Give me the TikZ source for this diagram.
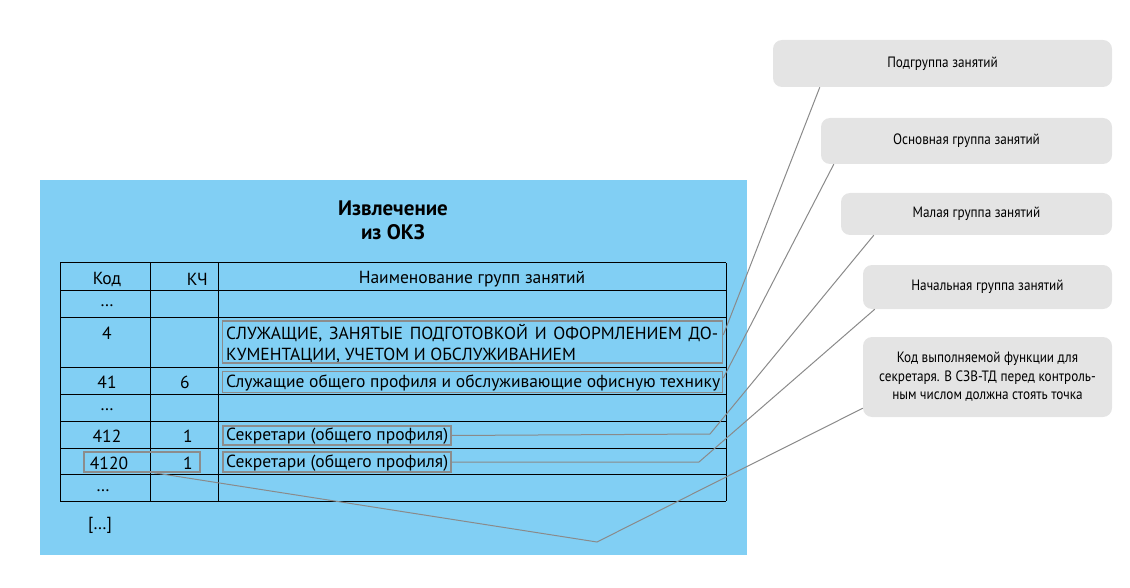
\documentclass[tikz,border=0pt]{standalone}
\usepackage{fontspec}
\setmainfont{PT Sans}
\newfontfamily\narrowfont[FakeStretch=0.88]{PT Sans}
\definecolor{bgblue}{HTML}{81CFF4}
\definecolor{boxgray}{HTML}{E4E4E4}
\definecolor{hlgray}{HTML}{8C8C8C}
\definecolor{lngray}{HTML}{8A8A8A}
\begin{document}
\begin{tikzpicture}[x=1pt,y=-1pt,
  tbl/.style={line width=1pt,black},
  hl/.style={draw=hlgray,line width=1.6pt,inner sep=0pt},
  cell/.style={inner sep=0pt,yshift=-1.5pt,font=\fontsize{17.5}{22}\selectfont},
  callout/.style={fill=boxgray,rounded corners=9pt,inner sep=0pt,align=center,
     font=\narrowfont\fontsize{15}{18.5}\selectfont},
  conn/.style={draw=lngray,line width=1pt}]
\useasboundingbox (0,0) rectangle (1130,588);
% background panel
\fill[bgblue] (40,180) rectangle (747,555);
\node[font=\bfseries\fontsize{21}{24}\selectfont,align=center,inner sep=0pt] (title) at (393,220) {Извлечение\\из ОКЗ};
% table grid
\draw[tbl] (60,263) -- (726,263) (60,290) -- (726,290) (60,317) -- (726,317)
  (60,367) -- (726,367) (60,394) -- (726,394) (60,421) -- (726,421)
  (60,448) -- (726,448) (60,474) -- (726,474) (60,501) -- (726,501);
\draw[tbl] (60,263) -- (60,501) (150,263) -- (150,501) (218,263) -- (218,501) (726,263) -- (726,501);
% header
\node[cell] (hk) at (107,278) {Код};
\node[cell,anchor=east] (hkc) at (208,278) {КЧ};
\node[cell] (hn) at (472,278) {Наименование групп занятий};
% rows
\node[cell] (r1) at (107,304) {\dots};
\node[cell] (r2k) at (107,332) {4};
\node[cell,anchor=west] (r2a) at (226,332) {\makebox[492pt][s]{СЛУЖАЩИЕ, ЗАНЯТЫЕ ПОДГОТОВКОЙ И ОФОРМЛЕНИЕМ ДО-}};
\node[cell,anchor=west] (r2b) at (226,354) {КУМЕНТАЦИИ, УЧЕТОМ И ОБСЛУЖИВАНИЕМ};
\node[cell] (r3k) at (107,381) {41};
\node[cell] (r3c) at (185,381) {6};
\node[cell,anchor=west] (r3n) at (226,381) {Служащие общего профиля и обслуживающие офисную технику};
\node[cell] (r4) at (107,408) {\dots};
\node[cell] (r5k) at (107,435) {412};
\node[cell] (r5c) at (188,435) {1};
\node[cell,anchor=west] (r5n) at (226,435) {Секретари (общего профиля)};
\node[cell] (r6k) at (109,462) {4120};
\node[cell] (r6c) at (188,462) {1};
\node[cell,anchor=west] (r6n) at (226,462) {Секретари (общего профиля)};
\node[cell] (r7) at (103,489) {\dots};
\node[cell] (etc) at (100,524) {[\dots]};
% highlight boxes
\node[hl,minimum width=500pt,minimum height=42pt] (h4) at (472.5,342) {};
\node[hl,minimum width=500pt,minimum height=21pt] (h41) at (472.5,382) {};
\node[hl,minimum width=228pt,minimum height=19pt] (h412) at (337,435.5) {};
\node[hl,minimum width=228pt,minimum height=20pt] (h4120) at (337,462) {};
\node[hl,minimum width=116pt,minimum height=20pt] (hcode) at (142,462) {};
% callouts
\node[callout,minimum width=339pt,minimum height=47pt] (sub) at (942.5,63.5) {Подгруппа занятий};
\node[callout,minimum width=291pt,minimum height=46pt] (main) at (966.5,141) {Основная группа занятий};
\node[callout,minimum width=271pt,minimum height=42pt] (minor) at (976.5,214) {Малая группа занятий};
\node[callout,minimum width=249pt,minimum height=44pt] (unit) at (987.5,287) {Начальная группа занятий};
\node[callout,minimum width=249pt,minimum height=80pt] (code) at (987.5,377) {Код выполняемой функции для\\секретаря. В СЗВ-ТД перед контроль-\\ным числом должна стоять точка};
% connectors
\coordinate (k3) at (710,434);
\coordinate (k4) at (699,462);
\coordinate (k5) at (597,542);
\draw[conn] ([xshift=47pt]sub.south west) -- ([yshift=7pt]h4.east);
\draw[conn] ([xshift=13pt]main.south west) -- ([yshift=4pt]h41.east);
\draw[conn] ([xshift=33pt]minor.south west) -- (k3) -- (h412.east);
\draw[conn] ([xshift=12pt]unit.south west) -- (k4) -- (h4120.east);
\draw[conn] ([yshift=9pt]code.south west) -- (k5) -- ([xshift=71pt]hcode.south west);
\end{tikzpicture}
\end{document}
